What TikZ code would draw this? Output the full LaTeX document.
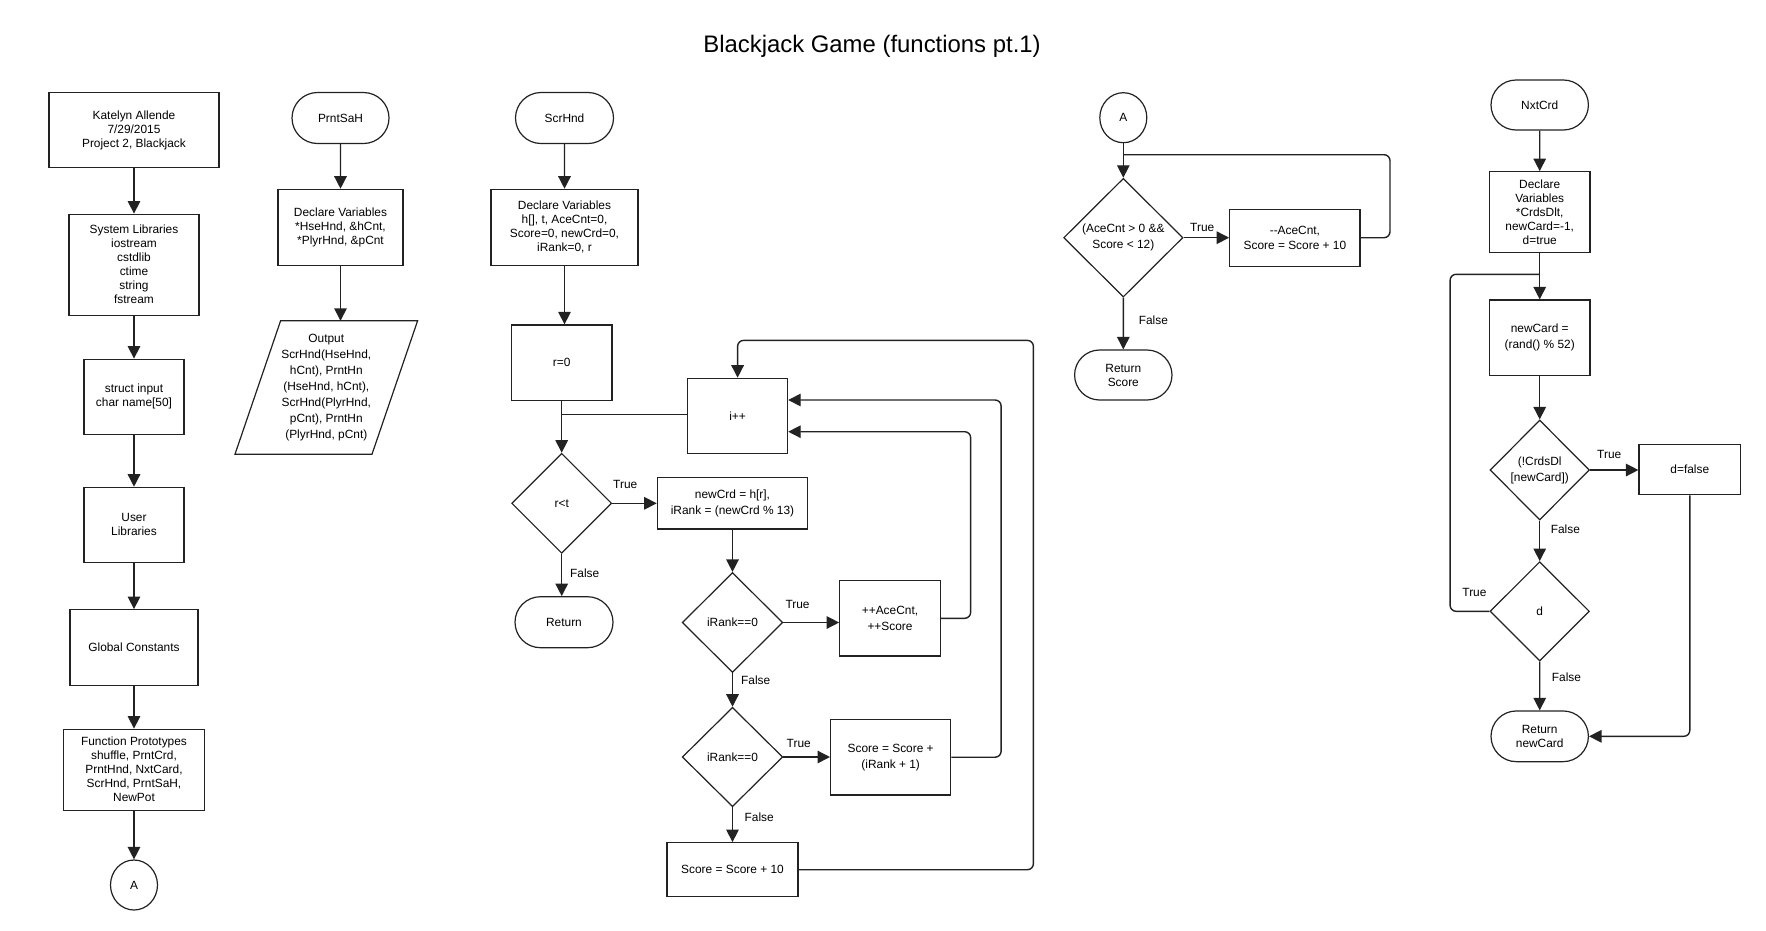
\documentclass[tikz,border=0pt]{standalone}
\usepackage{fontspec}
\setmainfont{Liberation Sans}
\usetikzlibrary{shapes.geometric,shapes.misc,arrows.meta,calc}
\definecolor{ink}{RGB}{34,34,34}
\begin{document}
\begin{tikzpicture}[x=1pt,y=-1pt,
  every node/.style={font=\fontsize{11.9}{14}\selectfont, text=black},
  box/.style={draw=ink, line width=1.2pt, rectangle, align=center, inner sep=1pt},
  term/.style={draw=ink, line width=1.2pt, rounded rectangle, align=center, inner sep=1pt},
  dia/.style={draw=ink, line width=1.2pt, diamond, aspect=1, align=center, inner sep=0pt},
  conn/.style={draw=ink, line width=1.4pt, -{Triangle[length=12.5pt,width=12.5pt]}},
  wire/.style={draw=ink, line width=1.4pt},
  lbl/.style={anchor=west, inner sep=0pt},
  ls/.style={font=\fontsize{11.9}{16}\selectfont}
]
\useasboundingbox[fill=white] (0,0) rectangle (1766,930);

\node[font=\fontsize{23.9}{28}\selectfont] (title) at (872,46) {Blackjack Game (functions pt.1)};

% ---------- column 1
\node[box, minimum width=170, minimum height=75] (kat) at (134,130.2) {Katelyn Allende\\7/29/2015\\Project 2, Blackjack};
\node[box, minimum width=130, minimum height=101] (sys) at (134,264.7) {System Libraries\\iostream\\cstdlib\\ctime\\string\\fstream};
\node[box, minimum width=100, minimum height=75] (str) at (134,396.7) {struct input\\char name[50]};
\node[box, minimum width=100, minimum height=75] (usr) at (134,524.8) {User\\Libraries};
\node[box, minimum width=128, minimum height=75.6] (glb) at (134,647.5) {Global Constants};
\node[box, minimum width=141, minimum height=81] (fun) at (134,769.7) {Function Prototypes\\shuffle, PrntCrd,\\PrntHnd, NxtCard,\\ScrHnd, PrntSaH,\\NewPot};
\node[draw=ink, line width=1.2pt, ellipse, minimum width=47, minimum height=50, inner sep=0pt] (ca) at (134,885) {A};
\draw[conn] (kat) -- (sys);
\draw[conn] (sys) -- (str);
\draw[conn] (str) -- (usr);
\draw[conn] (usr) -- (glb);
\draw[conn] (glb) -- (fun);
\draw[conn] (fun) -- (ca);

% ---------- column 2 (PrntSaH)
\node[term, minimum width=99, minimum height=51] (psh) at (340.5,118) {PrntSaH};
\node[box, minimum width=125, minimum height=76] (pdv) at (340.5,227.3) {Declare Variables\\*HseHnd, \&hCnt,\\*PlyrHnd, \&pCnt};
\node[minimum width=136.6, minimum height=133, inner sep=0pt, align=center, ls] (pout) at (326.3,387.5) {Output\\ScrHnd(HseHnd,\\hCnt), PrntHn\\(HseHnd, hCnt),\\ScrHnd(PlyrHnd,\\pCnt), PrntHn\\(PlyrHnd, pCnt)};
\draw[draw=ink, line width=1.2pt] ($(pout.south west)+(-22.8,0)$) -- ($(pout.south east)+(-22.8,0)$) -- ($(pout.north east)+(22.8,0)$) -- ($(pout.north west)+(22.8,0)$) -- cycle;
\draw[conn] (psh) -- (pdv);
\draw[conn] (pdv.south) -- (pdv.south |- pout.north);

% ---------- column 3 (ScrHnd)
\node[term, minimum width=100, minimum height=51] (sh) at (564.5,118) {ScrHnd};
\node[box, minimum width=147, minimum height=76] (sdv) at (564.5,227.3) {Declare Variables\\h[], t, AceCnt=0,\\Score=0, newCrd=0,\\iRank=0, r};
\node[box, minimum width=100.5, minimum height=75.7] (r0) at (561.7,362.8) {r=0};
\node[box, minimum width=100, minimum height=75] (ipp) at (737.6,415.8) {i++};
\node[dia, minimum width=100, minimum height=100] (rlt) at (561.7,503.3) {r<t};
\node[term, minimum width=100, minimum height=51] (ret) at (564,622.2) {Return};
\node[box, minimum width=150.4, minimum height=51.3, ls] (ncd) at (732.5,503.3) {newCrd = h[r],\\iRank = (newCrd \% 13)};
\node[dia, minimum width=100.5, minimum height=100] (ir1) at (732.5,622.5) {iRank==0};
\node[box, minimum width=100.5, minimum height=75.3, ls] (ace) at (890,618.3) {++AceCnt,\\++Score};
\node[dia, minimum width=100.5, minimum height=99.4] (ir2) at (732.5,757) {iRank==0};
\node[box, minimum width=120.2, minimum height=75.7, ls] (sc1) at (890.7,757.2) {Score = Score +\\(iRank + 1)};
\node[box, minimum width=131, minimum height=54] (sc10) at (732.5,869.7) {Score = Score + 10};
\coordinate (jr) at (561.7,414.3);

\draw[conn] (sh) -- (sdv);
\draw[conn] (sdv.south) -- (sdv.south |- r0.north);
\draw[conn] (r0) -- (rlt);
\draw[wire] (ipp.west |- jr) -- (jr);
\draw[conn] (rlt.east) -- (ncd.west);
\draw[conn] (rlt.south) -- (rlt.south |- ret.north);
\draw[conn] (ncd) -- (ir1);
\draw[conn] (ir1.east) -- (ace.west |- ir1.east);
\draw[conn] (ir1) -- (ir2);
\draw[conn] (ir2.east) -- (sc1.west |- ir2.east);
\draw[conn] (ir2) -- (sc10);
\draw[conn, rounded corners=6pt] (ace.east) -- ++(29.8,0) |- ($(ipp.east)+(0,15.9)$);
\draw[conn, rounded corners=6pt] (sc1.east) -- ++(49.7,0) |- ($(ipp.east)+(0,-15.8)$);
\draw[conn, rounded corners=6pt] (sc10.east) -- ++(234.8,0) |- ($(ipp.north)+(0,-37.3)$) -- (ipp.north);

\node[lbl] (t1) at (613,484) {True};
\node[lbl] (f1) at (570,573.7) {False};
\node[lbl] (t2) at (785.3,604.7) {True};
\node[lbl] (f2) at (741,680) {False};
\node[lbl] (t3) at (786.5,743.7) {True};
\node[lbl] (f3) at (744.5,817.7) {False};

% ---------- column 4 (A)
\node[draw=ink, line width=1.2pt, ellipse, minimum width=47, minimum height=50, inner sep=0pt] (ca2) at (1123.3,117.7) {A};
\node[dia, minimum width=119.3, minimum height=118.7, ls] (da) at (1123.3,237.7) {(AceCnt > 0 \&\&\\Score < 12)};
\node[box, minimum width=130.3, minimum height=57.4, font=\fontsize{11.9}{15}\selectfont] (deca) at (1294.9,238) {-{}-AceCnt,\\Score = Score + 10};
\node[term, minimum width=99.4, minimum height=50] (rets) at (1123.3,375) {Return\\Score};
\coordinate (ja) at (1123.3,154.7);
\draw[conn] (ca2) -- (da);
\draw[conn] (da.east) -- (deca.west |- da.east);
\draw[wire, rounded corners=6pt] (deca.east |- da.east) -- (1390,237.7) |- (ja);
\draw[conn] (da) -- (rets);
\node[lbl] (t4) at (1190,227.7) {True};
\node[lbl] (f4) at (1138.6,320) {False};

% ---------- column 5 (NxtCrd)
\node[term, minimum width=99.4, minimum height=50] (nt) at (1539.7,105) {NxtCrd};
\node[box, minimum width=100.5, minimum height=80.6] (ndv) at (1539.7,212) {Declare\\Variables\\*CrdsDlt,\\newCard=-1,\\d=true};
\node[box, minimum width=100.5, minimum height=75.7, ls] (nnc) at (1539.7,337.8) {newCard =\\(rand() \% 52)};
\node[dia, minimum width=99.4, minimum height=100, ls] (nd1) at (1539.7,470) {(!CrdsDl\\{[}newCard{]})};
\node[box, minimum width=101.6, minimum height=50.4] (dfl) at (1689.8,469.5) {d=false};
\node[dia, minimum width=99.4, minimum height=99.3] (nd2) at (1539.7,611.3) {d};
\node[term, minimum width=99.4, minimum height=50.7] (nrt) at (1539.7,736.3) {Return\\newCard};
\coordinate (jn) at (1539.7,274.3);
\draw[conn] (nt) -- (ndv);
\draw[conn] (ndv) -- (nnc);
\draw[conn] (nnc) -- (nd1);
\draw[conn] (nd1.east) -- (dfl.west |- nd1.east);
\draw[conn] (nd1) -- (nd2);
\draw[conn] (nd2) -- (nrt);
\draw[wire, rounded corners=6pt] (nd2.west) -- (1450.1,611.3) |- (jn);
\draw[conn, rounded corners=6pt] (dfl.south) |- (nrt.east);
\node[lbl] (t5) at (1597,454) {True};
\node[lbl] (f5) at (1550.6,529.7) {False};
\node[lbl] (t6) at (1462.2,592.7) {True};
\node[lbl] (f6) at (1551.7,677.7) {False};
\end{tikzpicture}
\end{document}
